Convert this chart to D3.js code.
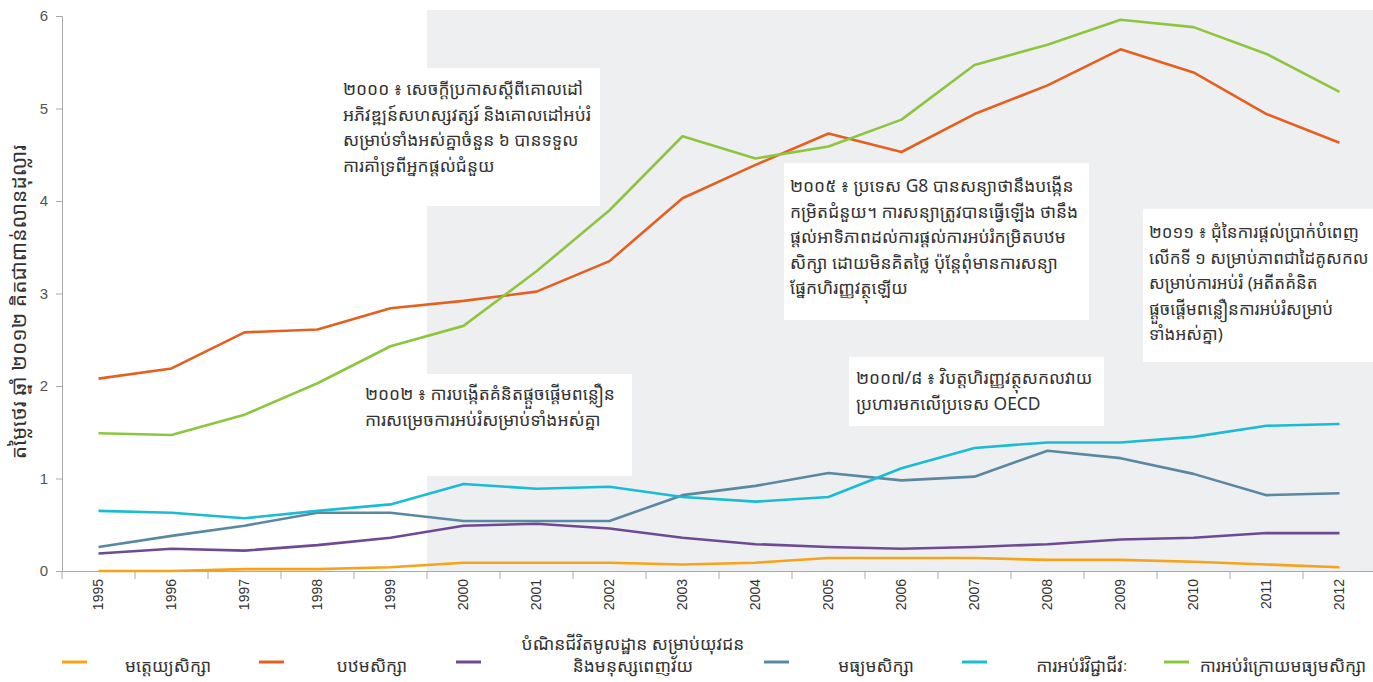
<!DOCTYPE html>
<html><head><meta charset="utf-8">
<script src="https://cdn.jsdelivr.net/npm/d3@7/dist/d3.min.js"></script>
<style>
body{margin:0;background:#fff;}
svg{display:block;font-family:"Noto Sans Khmer","Khmer OS","Liberation Sans","DejaVu Sans",sans-serif;}
</style></head>
<body><svg id="c" width="1373" height="682"></svg>
<script>
const years = ["1995","1996","1997","1998","1999","2000","2001","2002","2003","2004","2005","2006","2007","2008","2009","2010","2011","2012"];
const yTicks = [0,1,2,3,4,5,6];
const prePrimary = [0.00,0.00,0.02,0.02,0.04,0.09,0.09,0.09,0.07,0.09,0.14,0.14,0.14,0.12,0.12,0.10,0.07,0.04];
const primary = [2.08,2.19,2.58,2.61,2.84,2.92,3.02,3.35,4.03,4.39,4.73,4.53,4.94,5.25,5.64,5.39,4.94,4.63];
const lifeSkills = [0.19,0.24,0.22,0.28,0.36,0.49,0.51,0.46,0.36,0.29,0.26,0.24,0.26,0.29,0.34,0.36,0.41,0.41];
const secondary = [0.26,0.38,0.49,0.63,0.63,0.54,0.54,0.54,0.82,0.92,1.06,0.98,1.02,1.30,1.22,1.05,0.82,0.84];
const vocational = [0.65,0.63,0.57,0.65,0.72,0.94,0.89,0.91,0.80,0.75,0.80,1.11,1.33,1.39,1.39,1.45,1.57,1.59];
const postSecondary = [1.49,1.47,1.69,2.03,2.43,2.65,3.24,3.90,4.70,4.46,4.59,4.88,5.47,5.69,5.96,5.88,5.59,5.18];
const seriesNames = ["មត្តេយ្យសិក្សា","បឋមសិក្សា","បំណិនជីវិតមូលដ្ឋាន សម្រាប់យុវជន\nនិងមនុស្សពេញវ័យ","មធ្យមសិក្សា","ការអប់រំវិជ្ជាជីវៈ","ការអប់រំក្រោយមធ្យមសិក្សា"];
const seriesColors = ["#f7a21b","#e5601f","#6e4a95","#5a88a3","#1bbcd3","#8cc63f"];
const yLabel = "តម្លៃថេរ ឆ្នាំ ២០១២ គិតជាពាន់លានដុល្លារ";
const notes = [
  {year:"2000", lines:["២០០០ ៖ សេចក្ដីប្រកាសស្ដីពីគោលដៅ","អភិវឌ្ឍន៍សហស្សវត្សរ៍ និងគោលដៅអប់រំ","សម្រាប់ទាំងអស់គ្នាចំនួន ៦ បានទទួល","ការគាំទ្រពីអ្នកផ្ដល់ជំនួយ"]},
  {year:"2002", lines:["២០០២ ៖ ការបង្កើតគំនិតផ្ដួចផ្ដើមពន្លឿន","ការសម្រេចការអប់រំសម្រាប់ទាំងអស់គ្នា"]},
  {year:"2005", lines:["២០០៥ ៖ ប្រទេស G8 បានសន្យាថានឹងបង្កើន","កម្រិតជំនួយ។ ការសន្យាត្រូវបានធ្វើឡើង ថានឹង","ផ្ដល់អាទិភាពដល់ការផ្ដល់ការអប់រំកម្រិតបឋម","សិក្សា ដោយមិនគិតថ្លៃ ប៉ុន្ដែពុំមានការសន្យា","ផ្នែកហិរញ្ញវត្ថុឡើយ"]},
  {year:"2007/8", lines:["២០០៧/៨ ៖ វិបត្ដហិរញ្ញវត្ថុសកលវាយ","ប្រហារមកលើប្រទេស OECD"]},
  {year:"2011", lines:["២០១១ ៖ ជុំនៃការផ្ដល់ប្រាក់បំពេញ","លើកទី ១ សម្រាប់ភាពជាដៃគូសកល","សម្រាប់ការអប់រំ (អតីតគំនិត","ផ្ដួចផ្ដើមពន្លឿនការអប់រំសម្រាប់","ទាំងអស់គ្នា)"]}
];
// box geometry (layout)
const boxes = [
  {x:330,y:68,w:270,h:138,tx:343,ty:95,fs:17.4},
  {x:350,y:374,w:282,h:102,tx:365,ty:400,fs:17.4},
  {x:784,y:163,w:305,h:157,tx:790,ty:192,fs:17.4},
  {x:849,y:357,w:255,h:69,tx:856,ty:384,fs:17.4},
  {x:1143,y:209,w:230,h:153,tx:1149,ty:238,fs:17}
];

const svg = d3.select("#c");
const x = d3.scaleBand().domain(years).range([62,1376]).paddingInner(0).paddingOuter(0);
const y = d3.scaleLinear().domain([0,6]).range([571,16]);
const cx = d => x(d)+x.bandwidth()/2;

// shaded period
svg.append("rect").attr("x",x("2000")).attr("y",10).attr("width",1373-x("2000")).attr("height",y(0)-10).attr("fill","#eeeff1");
// annotation boxes
boxes.forEach((b,i)=>{
  svg.append("rect").attr("x",b.x).attr("y",b.y).attr("width",b.w).attr("height",b.h).attr("fill","#fff");
  const t = svg.append("text").attr("x",b.tx).attr("y",b.ty).attr("font-size",b.fs).attr("fill","#333");
  notes[i].lines.forEach((l,j)=>t.append("tspan").attr("x",b.tx).attr("dy",j?25.5:0).text(l));
});

// axes
const yAxis = svg.append("g").attr("transform","translate(62,0)").call(d3.axisLeft(y).tickValues(yTicks).tickSize(6).tickPadding(8).tickFormat(d3.format("d")));
yAxis.selectAll("path,line").attr("stroke","#aaa");
yAxis.selectAll("text").attr("font-size",15).attr("fill","#555").attr("font-family","Liberation Sans, Arial, sans-serif");

const xg = svg.append("g").attr("transform",`translate(0,${y(0)})`).call(d3.axisBottom(x).tickSize(0).tickPadding(0));
xg.select("path").attr("stroke","#aaa");
xg.selectAll(".tick text").attr("transform","rotate(-90)").attr("text-anchor","end").attr("x",-8).attr("y",0).attr("dy","0.35em")
  .attr("font-size",14).attr("fill","#333").attr("font-family","Liberation Sans, Arial, sans-serif");
// boundary ticks
xg.selectAll("line.b").data(years.concat(["end"])).enter().append("line").attr("class","b")
  .attr("x1",(d,i)=>i<years.length?x(d):x(years[years.length-1])+x.bandwidth())
  .attr("x2",(d,i)=>i<years.length?x(d):x(years[years.length-1])+x.bandwidth())
  .attr("y1",0).attr("y2",8).attr("stroke","#aaa");

// y label
svg.append("text").attr("transform","translate(26,302) rotate(-90)").attr("text-anchor","middle").attr("font-size",21).attr("fill","#333").text(yLabel);

// lines
const all = [prePrimary,primary,lifeSkills,secondary,vocational,postSecondary];
const line = d3.line().x((d,i)=>cx(years[i])).y(d=>y(d));
all.forEach((s,i)=>{
  svg.append("path").datum(s).attr("d",line).attr("fill","none").attr("stroke",seriesColors[i]).attr("stroke-width",2.6).attr("stroke-linejoin","round");
});

// legend
const legendPos = [{sx:62,tx:168},{sx:259,tx:372},{sx:456,tx:633},{sx:764,tx:876},{sx:962,tx:1082},{sx:1164,tx:1283}];
seriesNames.forEach((n,i)=>{
  const p = legendPos[i];
  svg.append("line").attr("x1",p.sx).attr("x2",p.sx+25).attr("y1",662).attr("y2",662).attr("stroke",seriesColors[i]).attr("stroke-width",3);
  const parts = n.split("\n");
  const t = svg.append("text").attr("text-anchor","middle").attr("font-size",17.4).attr("fill","#333");
  if(parts.length===1){ t.attr("x",p.tx).attr("y",672).text(n); }
  else parts.forEach((l,j)=>t.append("tspan").attr("x",p.tx).attr("y",650+j*22).text(l));
});
</script></body></html>
